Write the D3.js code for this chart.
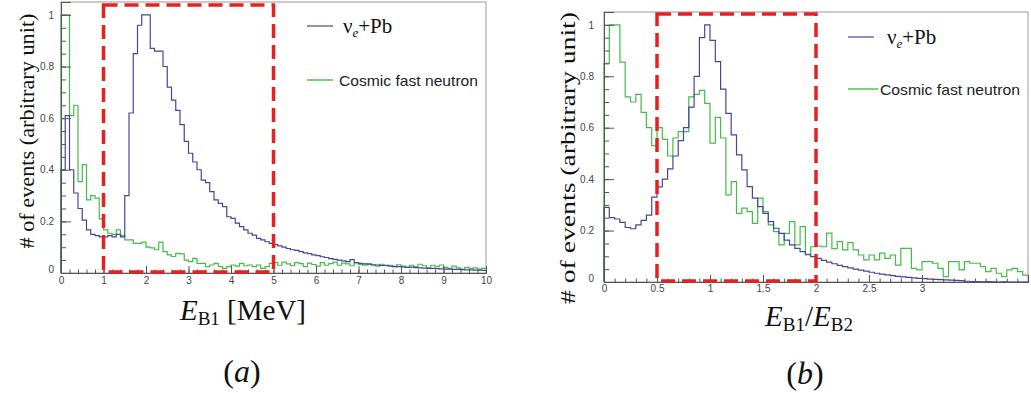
<!DOCTYPE html>
<html><head><meta charset="utf-8">
<script src="https://cdn.jsdelivr.net/npm/d3@7"></script>
<style>
html,body{margin:0;padding:0;background:#fff;}
svg{display:block;}
</style></head>
<body>
<svg id="c" width="1031" height="393"></svg>
<script>
// ---------------- DATA ----------------
// Panel (a): E_B1 [MeV], 100 bins of 0.1 MeV from 0 to 10
const aBinStart = 0, aBinWidth = 0.1;
const aNuPb = [
 0.40,0.61,0.40,0.31,0.25,0.205,0.167,0.15,0.145,0.14,
 0.14,0.145,0.14,0.15,0.14,0.30,0.62,0.85,0.96,1.0,
 1.0,0.87,0.86,0.86,0.80,0.72,0.67,0.63,0.575,0.51,
 0.464,0.43,0.40,0.36,0.35,0.315,0.283,0.27,0.257,0.218,
 0.212,0.193,0.18,0.167,0.154,0.147,0.134,0.128,0.121,0.115,
 0.11,0.105,0.10,0.095,0.09,0.088,0.083,0.078,0.075,0.07,
 0.067,0.063,0.06,0.056,0.053,0.05,0.047,0.044,0.052,0.04,
 0.037,0.035,0.034,0.032,0.031,0.029,0.03,0.027,0.026,0.025,
 0.024,0.022,0.023,0.021,0.02,0.019,0.018,0.018,0.017,0.016,
 0.015,0.015,0.014,0.014,0.013,0.012,0.012,0.011,0.011,0.01
];
const aNeutron = [
 1.0,1.0,0.61,0.65,0.354,0.42,0.283,0.30,0.29,0.21,
 0.167,0.154,0.15,0.167,0.145,0.128,0.128,0.115,0.115,0.12,
 0.10,0.097,0.09,0.12,0.083,0.07,0.064,0.076,0.074,0.05,
 0.044,0.057,0.037,0.037,0.025,0.031,0.037,0.025,0.018,0.025,
 0.031,0.027,0.037,0.028,0.031,0.025,0.031,0.018,0.025,0.037,
 0.04,0.03,0.042,0.035,0.028,0.04,0.036,0.025,0.038,0.033,
 0.027,0.04,0.03,0.036,0.042,0.03,0.038,0.035,0.028,0.04,
 0.033,0.03,0.036,0.03,0.027,0.034,0.028,0.03,0.024,0.032,
 0.027,0.022,0.03,0.025,0.034,0.028,0.02,0.03,0.025,0.031,
 0.022,0.018,0.027,0.02,0.015,0.022,0.018,0.02,0.015,0.018
];
const aXTicks = [0,1,2,3,4,5,6,7,8,9,10];
const aYTicks = [0,0.2,0.4,0.6,0.8,1];
const aCut = [1,5];

// Panel (b): E_B1/E_B2, 80 bins of 0.05 from 0 to 4
const bBinStart = 0, bBinWidth = 0.05;
const bNuPb = [
 0.29,0.25,0.245,0.232,0.212,0.207,0.222,0.24,0.26,0.33,
 0.37,0.40,0.44,0.49,0.55,0.60,0.68,0.80,0.95,1.0,
 0.94,0.857,0.75,0.656,0.572,0.494,0.436,0.371,0.326,0.293,
 0.267,0.235,0.209,0.189,0.163,0.144,0.131,0.118,0.108,0.099,
 0.092,0.084,0.077,0.071,0.065,0.06,0.055,0.05,0.046,0.042,
 0.038,0.034,0.031,0.028,0.025,0.022,0.02,0.018,0.016,0.014,
 0.013,0.011,0.01,0.009,0.008,0.007,0.006,0.005,0.003,0.002,
 0.002,0.001,0.002,0.001,0,0.001,0,0,0,0
];
const bNeutron = [
 0.85,1.0,1.0,0.855,0.72,0.70,0.73,0.66,0.60,0.53,
 0.60,0.555,0.49,0.56,0.585,0.585,0.72,0.73,0.745,0.695,
 0.54,0.64,0.56,0.339,0.39,0.267,0.287,0.274,0.228,0.326,
 0.274,0.222,0.196,0.144,0.189,0.235,0.144,0.215,0.105,0.137,
 0.14,0.137,0.19,0.13,0.157,0.125,0.153,0.125,0.105,0.086,
 0.105,0.086,0.112,0.092,0.105,0.066,0.131,0.131,0.053,0.047,
 0.079,0.079,0.073,0.053,0.021,0.079,0.079,0.047,0.079,0.073,
 0.073,0.06,0.04,0.053,0.034,0.021,0.047,0.053,0.04,0.027
];
const bXTicks = [0,0.5,1,1.5,2,2.5,3];
const bYTicks = [0,0.2,0.4,0.6,0.8,1];
const bCut = [0.5,2];

const seriesNames = ["+Pb","Cosmic fast neutron"];

// ---------------- STYLE ----------------
const BLUE = "#46469a", GREEN = "#45bb4a", RED = "#e62020";
const SERIF = "'Liberation Serif','Times New Roman',serif";
const SANS = "'Liberation Sans',Arial,sans-serif";

const svg = d3.select("#c");

function panel(o){
  const g = svg.append("g");
  const x = d3.scaleLinear().domain(o.xDomain).range([o.left, o.right]);
  const y = d3.scaleLinear().domain([0,1.05]).range([o.bottom, o.top]);

  // frame
  g.append("rect").attr("x",o.left).attr("y",o.top)
    .attr("width",o.right-o.left).attr("height",o.bottom-o.top)
    .attr("fill","none").attr("stroke","#9a9a9a").attr("stroke-width",1);

  // histograms
  function hist(vals, start, w, color){
    const pts = vals.map((v,i)=>[start+i*w, v]);
    pts.push([start+vals.length*w, vals[vals.length-1]]);
    pts.unshift([start, 0]);
    const line = d3.line().x(d=>x(d[0])).y(d=>y(d[1])).curve(d3.curveStepAfter);
    g.append("path").attr("d", line(pts)).attr("fill","none")
      .attr("stroke",color).attr("stroke-width",1.2);
  }
  hist(o.green, o.binStart, o.binWidth, GREEN);
  hist(o.blue, o.binStart, o.binWidth, BLUE);

  // axes
  const xMinor = d3.range(o.xDomain[0], o.xDomain[1]+1e-9, o.xMinorStep);
  const yMinor = d3.range(0, 1.05+1e-9, 0.05);
  const xa = g.append("g").attr("transform",`translate(0,${o.bottom})`)
    .call(d3.axisBottom(x).tickValues(xMinor).tickSize(-3.5).tickFormat(""));
  const xb = g.append("g").attr("transform",`translate(0,${o.bottom})`)
    .call(d3.axisBottom(x).tickValues(o.xTicks).tickSize(-7).tickPadding(o.xPad).tickFormat(d3.format("")));
  const ya = g.append("g").attr("transform",`translate(${o.left},0)`)
    .call(d3.axisLeft(y).tickValues(yMinor).tickSize(-5).tickFormat(""));
  const yb = g.append("g").attr("transform",`translate(${o.left},0)`)
    .call(d3.axisLeft(y).tickValues(o.yTicks).tickSize(-10).tickPadding(o.yPad).tickFormat(d3.format("")));
  [xa,xb,ya,yb].forEach(a=>{
    a.selectAll("path.domain").attr("stroke","#555");
    a.selectAll("line").attr("stroke","#555");
    a.selectAll("text").attr("font-family",SANS).attr("font-size",10).attr("fill","#444");
  });
  yb.selectAll("text").filter(d=>d===0).attr("dy","-0.1em");

  // red dashed selection box
  g.append("rect").attr("x",x(o.cut[0])).attr("y",o.cutTop)
    .attr("width",x(o.cut[1])-x(o.cut[0])).attr("height",o.bottom-o.cutTop-1)
    .attr("fill","none").attr("stroke",RED).attr("stroke-width",3.5)
    .attr("stroke-dasharray","14,7");

  // legend
  const L = o.legend;
  g.append("line").attr("x1",L.x1).attr("x2",L.x2).attr("y1",L.y1).attr("y2",L.y1)
    .attr("stroke",BLUE).attr("stroke-width",1.2);
  const t1 = g.append("text").attr("x",L.t1x).attr("y",L.y1+7)
    .attr("font-family",SERIF).attr("font-size",21).attr("fill","#111");
  t1.append("tspan").text("ν");
  t1.append("tspan").attr("font-size",13).attr("font-style","italic").attr("dy",4).text("e");
  t1.append("tspan").attr("dy",-4).text(seriesNames[0]);
  g.append("line").attr("x1",L.x1).attr("x2",L.x3).attr("y1",L.y2).attr("y2",L.y2)
    .attr("stroke",GREEN).attr("stroke-width",1.4);
  g.append("text").attr("x",L.t2x).attr("y",L.y2+6)
    .attr("font-family",SANS).attr("font-size",14.5).attr("fill","#222")
    .attr("textLength",L.t2len).attr("lengthAdjust","spacingAndGlyphs")
    .text(seriesNames[1]);

  // y title
  g.append("text").attr("transform",`translate(${o.yTitleX},${o.yTitleY}) rotate(-90)`)
    .attr("text-anchor","middle").attr("font-family",SERIF).attr("font-size",21)
    .attr("fill","#111").attr("textLength",o.yTitleLen).attr("lengthAdjust","spacingAndGlyphs")
    .text("# of events (arbitrary unit)");
  return {g,x,y};
}

const A = panel({
  left:61, right:486, top:2, bottom:273, xDomain:[0,10], xMinorStep:0.2,
  xTicks:aXTicks, yTicks:aYTicks, blue:aNuPb, green:aNeutron, xPad:4, yPad:7,
  binStart:aBinStart, binWidth:aBinWidth, cut:aCut, cutTop:5,
  legend:{x1:307,x2:333,x3:333,y1:26,y2:80,t1x:343,t2x:339,t2len:139},
  yTitleX:34, yTitleY:131, yTitleLen:235
});
const B = panel({
  left:604, right:1028, top:12, bottom:282, xDomain:[0,4], xMinorStep:0.1,
  xTicks:bXTicks, yTicks:bYTicks, blue:bNuPb, green:bNeutron, xPad:3, yPad:10,
  binStart:bBinStart, binWidth:bBinWidth, cut:bCut, cutTop:14,
  legend:{x1:848,x2:874,x3:878,y1:37,y2:89,t1x:887,t2x:880,t2len:140},
  yTitleX:575, yTitleY:158, yTitleLen:292
});

// x titles
function xTitle(cx, by, parts){
  const t = svg.append("text").attr("x",cx).attr("y",by).attr("text-anchor","middle")
    .attr("font-family",SERIF).attr("font-size",29).attr("fill","#111");
  parts.forEach(p=>{
    const s = t.append("tspan").text(p.t);
    if(p.i) s.attr("font-style","italic");
    if(p.sub){ s.attr("font-size",19).attr("dy",5); }
    if(p.up){ s.attr("dy",-5); }
  });
}
xTitle(243, 320, [{t:"E",i:true},{t:"B1",sub:true},{t:" [MeV]",up:true}]);
xTitle(809, 326, [{t:"E",i:true},{t:"B1",sub:true},{t:"/",up:true},{t:"E",i:true},{t:"B2",sub:true}]);

// panel letters
function letter(cx, by, ch){
  const t = svg.append("text").attr("x",cx).attr("y",by).attr("text-anchor","middle")
    .attr("font-family",SERIF).attr("font-size",32).attr("fill","#111");
  t.append("tspan").text("(");
  t.append("tspan").attr("font-style","italic").text(ch);
  t.append("tspan").text(")");
}
letter(242, 382, "a");
letter(805, 384, "b");
</script>
</body></html>
